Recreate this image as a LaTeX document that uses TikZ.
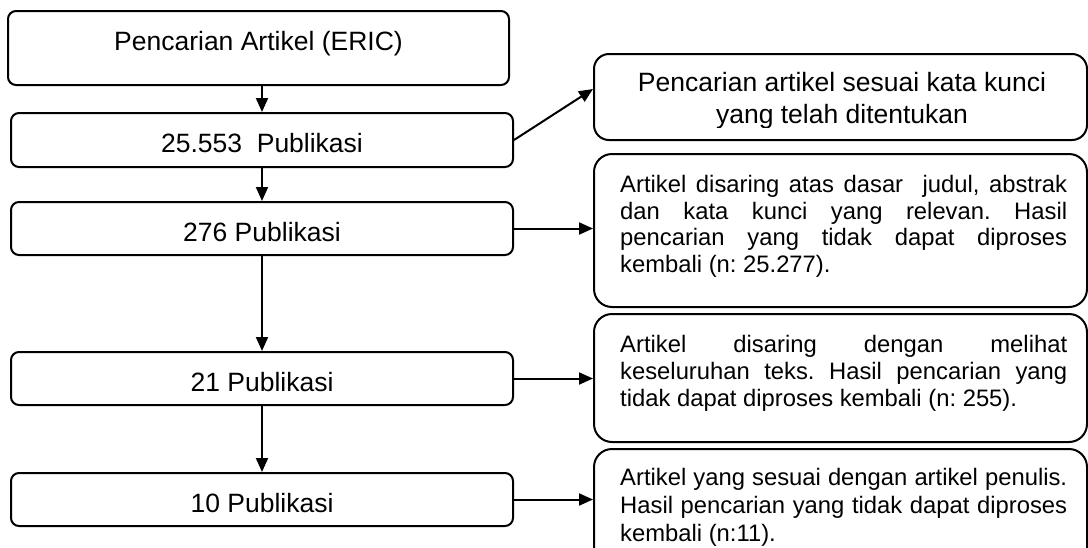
\documentclass[tikz,border=0pt]{standalone}
\usepackage{fontspec}
\setmainfont{Liberation Sans}
\usetikzlibrary{arrows.meta,calc}
\begin{document}
\hyphenpenalty=10000
\exhyphenpenalty=10000
\frenchspacing
\begin{tikzpicture}[x=1pt,y=-1pt,
  lbox/.style={draw, line width=2pt, rounded corners=8pt, inner sep=0pt, minimum width=502pt, minimum height=53pt, text height=25pt, text depth=0pt, font=\fontsize{26.5}{32}\selectfont},
  rbox/.style={draw, line width=2pt, rounded corners=18pt, inner sep=0pt, minimum width=493pt, anchor=north west},
  rtext/.style={inner sep=0pt, anchor=north west, text width=447pt, align=justify, font=\fontsize{23.8}{26.5}\selectfont},
  arr/.style={line width=2pt, -{Triangle[length=14pt,width=12pt]}}]
\useasboundingbox (0,0) rectangle (1088,547);
% left column
\node[lbox, minimum width=501pt, minimum height=74pt, text height=19pt, text depth=15pt] (b1) at (258.5,48) {Pencarian Artikel (ERIC)};
\node[lbox, minimum height=54pt] (b2) at (262,140) {25.553\ \ Publikasi};
\node[lbox] (b3) at (262,228.5) {276 Publikasi};
\node[lbox] (b4) at (262,378.5) {21 Publikasi};
\node[lbox] (b5) at (262,499.5) {10 Publikasi};
% right column
\node[rbox, rounded corners=15pt, minimum height=86pt] (r1) at (593,53) {};
\node[rbox, minimum height=153pt] (r2) at (593,153) {};
\node[rbox, minimum height=128pt] (r3) at (593,313) {};
\node[rbox, minimum height=130pt] (r4) at (593,448) {};
\begin{scope}
\clip (r1.north west) rectangle ($(r1.east)+(0,30)$);
\node[anchor=north, align=center, inner sep=0pt, font=\fontsize{26.5}{32}\selectfont] (t1) at (842,72.5) {Pencarian artikel sesuai kata kunci\\yang telah ditentukan};
\end{scope}
\node[rtext] (t2) at (620,175.5) {Artikel disaring atas dasar~ judul, abstrak\linebreak dan kata kunci yang relevan. Hasil\linebreak pencarian yang tidak dapat diproses\linebreak kembali (n: 25.277).};
\node[rtext, font=\fontsize{23.8}{27}\selectfont] (t3) at (620,335.5) {Artikel disaring dengan melihat\linebreak keseluruhan teks. Hasil pencarian yang\linebreak tidak dapat diproses kembali (n: 255).};
\node[rtext, font=\fontsize{23.8}{28}\selectfont] (t4) at (620,468.5) {Artikel yang sesuai dengan artikel penulis.\linebreak Hasil pencarian yang tidak dapat diproses\linebreak kembali (n:11).};
% connectors
\draw[arr] (b1.south -| b2.north) -- (b2.north);
\draw[arr] (b2.south) -- (b3.north);
\draw[arr] (b3.south) -- (b4.north);
\draw[arr] (b4.south) -- (b5.north);
\draw[arr] (b2.east) -- ($(r1.west)+(0,-8)$);
\draw[arr] (b3.east) -- (b3.east -| r2.west);
\draw[arr] (b4.east) -- (b4.east -| r3.west);
\draw[arr] (b5.east) -- (b5.east -| r4.west);
\end{tikzpicture}
\end{document}
